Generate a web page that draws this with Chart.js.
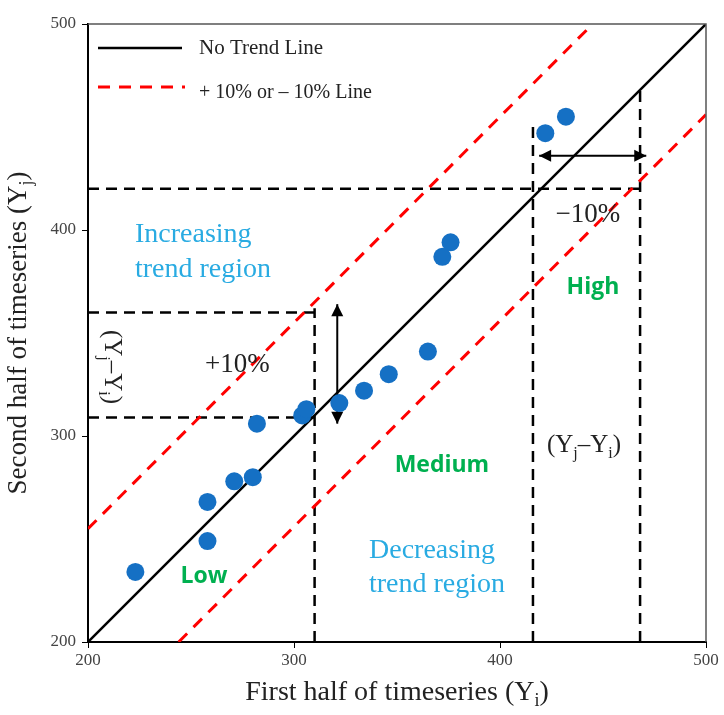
<!DOCTYPE html>
<html>
<head>
<meta charset="utf-8">
<script src="https://cdn.jsdelivr.net/npm/chart.js@4.4.1/dist/chart.umd.min.js"></script>
<style>
  html, body { margin: 0; padding: 0; background: #fff; }
  #wrap { width: 724px; height: 715px; }
</style>
</head>
<body>
<div id="wrap"><canvas id="trendChart" width="724" height="715"></canvas></div>
<script>
// --- data ---
const firstHalf  = [223, 258, 258, 271, 280, 282, 304, 306, 322, 334, 346, 365, 372, 376, 422, 432];
const secondHalf = [234, 249, 268, 278, 280, 306, 310, 313, 316, 322, 330, 341, 387, 394, 447, 455];

const axisMin = 200;
const axisMax = 500;
const tickValues = [200, 300, 400, 500];

// reference lines (x, y pairs)
const noTrendX = [200, 500];
const noTrendY = [200, 500];
const upperX = [200, 445];
const upperY = [255, 500];
const lowerX = [244, 500];
const lowerY = [200, 456];

// black dashed guides: [x1, y1, x2, y2]
const guideLines = [
  [200, 420, 468, 420],
  [416, 200, 416, 450],
  [468, 200, 468, 468],
  [200, 360, 310, 360],
  [200, 309, 310, 309],
  [310, 200, 310, 362]
];
// double arrows: [x1, y1, x2, y2]
const arrows = [
  [321, 306, 321, 364],
  [419, 436, 471, 436]
];

const BLUE_TEXT = '#29abe2';
const GREEN = '#00b050';
const SERIF = '"Liberation Serif", "DejaVu Serif", serif';
const SANS = '"Open Sans", "Noto Sans", sans-serif';

const pairs = (xs, ys) => xs.map((x, i) => ({ x: x, y: ys[i] }));

// draws text with simple subscripts; parts = [[text, isSub], ...]
function drawRich(ctx, parts, x, y, size, align) {
  const subSize = Math.round(size * 0.65);
  let total = 0;
  parts.forEach(p => {
    ctx.font = (p[1] ? subSize : size) + 'px ' + SERIF;
    total += ctx.measureText(p[0]).width;
  });
  let cx = align === 'center' ? x - total / 2 : x;
  ctx.textAlign = 'left';
  ctx.textBaseline = 'alphabetic';
  parts.forEach(p => {
    ctx.font = (p[1] ? subSize : size) + 'px ' + SERIF;
    ctx.fillText(p[0], cx, p[1] ? y + size * 0.22 : y);
    cx += ctx.measureText(p[0]).width;
  });
}

function arrowHead(ctx, x, y, ang) {
  const len = 12, w = 6;
  ctx.beginPath();
  ctx.moveTo(x, y);
  ctx.lineTo(x - len * Math.cos(ang) + w * Math.sin(ang), y - len * Math.sin(ang) - w * Math.cos(ang));
  ctx.lineTo(x - len * Math.cos(ang) - w * Math.sin(ang), y - len * Math.sin(ang) + w * Math.cos(ang));
  ctx.closePath();
  ctx.fill();
}

const annotations = {
  id: 'annotations',
  beforeDatasetsDraw(chart) {
    const { ctx, scales: { x, y } } = chart;
    ctx.save();
    ctx.strokeStyle = '#000';
    ctx.lineWidth = 2.5;
    ctx.setLineDash([11, 7]);
    guideLines.forEach(g => {
      ctx.beginPath();
      ctx.moveTo(x.getPixelForValue(g[0]), y.getPixelForValue(g[1]));
      ctx.lineTo(x.getPixelForValue(g[2]), y.getPixelForValue(g[3]));
      ctx.stroke();
    });
    ctx.setLineDash([]);
    ctx.lineWidth = 2;
    ctx.fillStyle = '#000';
    arrows.forEach(a => {
      const x1 = x.getPixelForValue(a[0]), y1 = y.getPixelForValue(a[1]);
      const x2 = x.getPixelForValue(a[2]), y2 = y.getPixelForValue(a[3]);
      const ang = Math.atan2(y2 - y1, x2 - x1);
      ctx.beginPath();
      ctx.moveTo(x1, y1);
      ctx.lineTo(x2, y2);
      ctx.stroke();
      arrowHead(ctx, x2, y2, ang);
      arrowHead(ctx, x1, y1, ang + Math.PI);
    });
    ctx.restore();
  },
  afterDraw(chart) {
    const { ctx, chartArea: ca, scales: { x, y } } = chart;
    const px = v => x.getPixelForValue(v);
    const py = v => y.getPixelForValue(v);
    ctx.save();

    // frame top / right
    ctx.strokeStyle = '#555';
    ctx.lineWidth = 1.5;
    ctx.beginPath();
    ctx.moveTo(ca.left, ca.top);
    ctx.lineTo(ca.right, ca.top);
    ctx.lineTo(ca.right, ca.bottom);
    ctx.stroke();

    // legend
    ctx.strokeStyle = '#000';
    ctx.lineWidth = 2.5;
    ctx.beginPath();
    ctx.moveTo(ca.left + 10, ca.top + 24);
    ctx.lineTo(ca.left + 94, ca.top + 24);
    ctx.stroke();
    ctx.strokeStyle = '#f00';
    ctx.lineWidth = 3;
    ctx.setLineDash([12, 9]);
    ctx.beginPath();
    ctx.moveTo(ca.left + 10, ca.top + 63);
    ctx.lineTo(ca.left + 97, ca.top + 63);
    ctx.stroke();
    ctx.setLineDash([]);
    ctx.fillStyle = '#222';
    ctx.textAlign = 'left';
    ctx.textBaseline = 'middle';
    ctx.font = '21px ' + SERIF;
    ctx.fillText('No Trend Line', ca.left + 111, ca.top + 24);
    ctx.font = '20px ' + SERIF;
    ctx.fillText('+ 10% or \u2013 10% Line', ca.left + 111, ca.top + 69);

    // region labels
    ctx.fillStyle = BLUE_TEXT;
    ctx.font = '28px ' + SERIF;
    ctx.textAlign = 'left';
    ctx.textBaseline = 'alphabetic';
    ctx.fillText('Increasing', px(222.8), py(394.2));
    ctx.fillText('trend region', px(222.8), py(377.2));
    ctx.fillText('Decreasing', px(336.4), py(240.8));
    ctx.fillText('trend region', px(336.4), py(224.3));

    ctx.fillStyle = GREEN;
    ctx.font = 'bold 23px ' + SANS;
    ctx.textAlign = 'center';
    ctx.textBaseline = 'middle';
    ctx.fillText('Low', px(256.3), py(232));
    ctx.fillText('Medium', px(371.8), py(285.9));
    ctx.fillText('High', px(445.1), py(372.3));

    ctx.fillStyle = '#222';
    ctx.font = '27px ' + SERIF;
    ctx.textBaseline = 'alphabetic';
    ctx.fillText('+10%', px(272.5), py(331));
    ctx.fillText('\u221210%', px(442.7), py(404));

    drawRich(ctx, [['(Y', false], ['j', true], ['\u2013Y', false], ['i', true], [')', false]],
      px(440.8), py(292.2), 25, 'center');

    ctx.save();
    ctx.translate(px(212.1), py(333.5));
    ctx.rotate(Math.PI / 2);
    drawRich(ctx, [['(Y', false], ['j', true], ['\u2013Y', false], ['i', true], [')', false]], 0, 8, 25, 'center');
    ctx.restore();

    // axis titles
    ctx.fillStyle = '#222';
    drawRich(ctx, [['First half of timeseries (Y', false], ['i', true], [')', false]],
      (ca.left + ca.right) / 2, ca.bottom + 58, 28, 'center');
    ctx.save();
    ctx.translate(ca.left - 70, (ca.top + ca.bottom) / 2);
    ctx.rotate(-Math.PI / 2);
    drawRich(ctx, [['Second half of timeseries (Y', false], ['j', true], [')', false]], 0, 8, 27, 'center');
    ctx.restore();

    ctx.restore();
  }
};

new Chart(document.getElementById('trendChart'), {
  type: 'scatter',
  data: {
    datasets: [
      {
        label: 'No Trend Line',
        data: pairs(noTrendX, noTrendY),
        showLine: true,
        borderColor: '#000',
        borderWidth: 2.5,
        pointRadius: 0
      },
      {
        label: '+10%',
        data: pairs(upperX, upperY),
        showLine: true,
        borderColor: '#f00',
        borderWidth: 3,
        borderDash: [12, 9],
        pointRadius: 0
      },
      {
        label: '-10%',
        data: pairs(lowerX, lowerY),
        showLine: true,
        borderColor: '#f00',
        borderWidth: 3,
        borderDash: [12, 9],
        pointRadius: 0
      },
      {
        label: 'Timeseries',
        data: pairs(firstHalf, secondHalf),
        backgroundColor: '#1570c4',
        borderWidth: 0,
        pointRadius: 9,
        order: -1
      }
    ]
  },
  options: {
    responsive: false,
    animation: false,
    layout: { padding: { left: 0, top: 24, right: 18, bottom: 0 } },
    plugins: { legend: { display: false }, tooltip: { enabled: false } },
    scales: {
      x: {
        type: 'linear',
        min: axisMin,
        max: axisMax,
        afterBuildTicks: s => { s.ticks = tickValues.map(v => ({ value: v })); },
        afterFit: s => { s.height = 73; },
        grid: { drawOnChartArea: false, drawTicks: true, tickLength: 6, color: '#000' },
        border: { color: '#000', width: 2 },
        ticks: { color: '#444', font: { family: SERIF, size: 17 }, padding: 2 }
      },
      y: {
        type: 'linear',
        min: axisMin,
        max: axisMax,
        afterBuildTicks: s => { s.ticks = tickValues.map(v => ({ value: v })); },
        afterFit: s => { s.width = 88; },
        grid: { drawOnChartArea: false, drawTicks: true, tickLength: 6, color: '#000' },
        border: { color: '#000', width: 2 },
        ticks: { color: '#444', font: { family: SERIF, size: 17 }, padding: 6 }
      }
    }
  },
  plugins: [annotations]
});
</script>
</body>
</html>
